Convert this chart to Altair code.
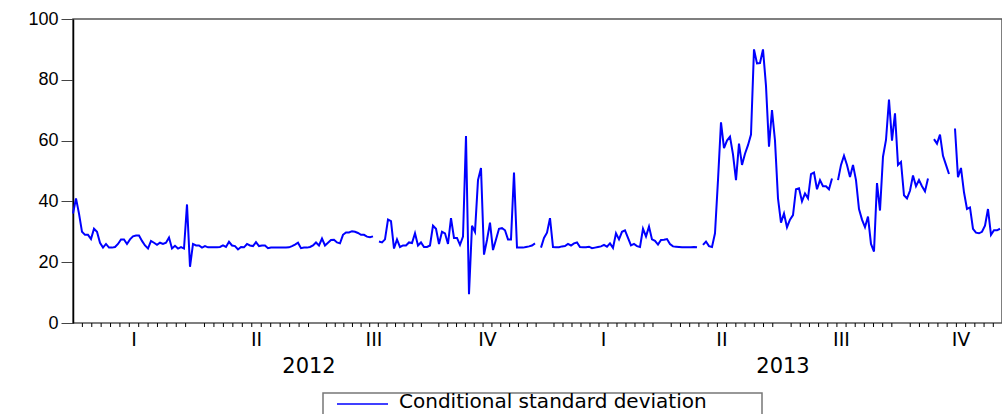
import altair as alt
import pandas as pd

# ---- data: conditional standard deviation, one value per observation ----
q1_2012 = [36, 41, 36, 30, 29, 29, 27.6, 31, 30, 26.4, 24.8, 26, 24.8, 24.8, 25, 26, 27.5, 27.5, 26, 27.5,
           28.5, 28.8, 28.8, 27, 25.5, 24.5, 27, 26.4, 25.7, 26.4, 26, 26.4, 28.1, 24.5, 25.4, 24.5, 25, 24.5, 39, 18.5, 26]
q2_2012 = [25.5, 25.5, 24.8, 25.3, 24.9, 24.9, 24.9, 24.9, 25, 25.5, 25, 26.7, 25.5, 25.3, 24.2, 25, 24.9, 26, 25.5, 25.3,
           26.6, 25.3, 25.5, 25.5, 24.6, 24.8, 24.8, 24.8, 24.8, 24.8, 24.8, 24.9, 25.3, 25.8, 26.4, 24.6, 24.8, 24.8, 25, 25.5, 26.5]
q3_2012 = [25.5, 27.8, 25.5, 26.4, 27.3, 27.4, 26.5, 26.2, 29, 29.8, 29.8, 30.2, 30, 29.6, 29, 29, 28.4, 28.2, 28.5, None,
           26.8, 26.5, 27.5, 34, 33.5, 24.5, 27.5, 25, 25.5, 25.5, 26.5, 26.3, 29.5, 25.5, 26.5, 25, 25]
q4_2012 = [25.5, 32, 31, 26, 30, 29.5, 26, 34.5, 28, 28, 25.7, 28.4, 61.5, 9.5, 32, 30, 47, 51, 22.5, 27.3,
           33, 24, 27.5, 31, 31.2, 30.5, 27.5, 27.5, 49.5, 24.8, 24.8, 24.8, 25, 25.2, 25.5, 26.2, None, 24.8, 28]
q1_2013 = [29.7, 34.5, 25, 24.9, 24.9, 25.2, 25.3, 26, 25.5, 26.2, 26.5, 25, 24.9, 24.9, 25.1, 24.6, 24.8, 25, 25.2, 25.7,
           25.1, 26.2, 24.7, 29.5, 27.5, 30, 30.5, 28, 25.5, 26, 25.3, 25, 31, 28.5, 31.7, 27.5, 27, 25.8, 27.3]
q2_2013 = [27.4, 27.6, 26, 25.2, 25.1, 25, 24.9, 24.9, 24.9, 24.9, 25, 24.9, None, 25.7, 26.8, 25.3, 25, 29.5, 47, 66,
           57.5, 60, 61.3, 55.5, 47, 59, 52, 55.7, 58.5, 62, 90, 85.4, 85.5, 90, 78, 58, 70, 60, 41, 33]
q3_2013 = [36, 31.5, 34, 35.5, 44, 44.3, 40, 42.6, 41, 49, 49.5, 44, 47, 45, 45, 44, 47.5, None, 47, 52,
           55, 52, 48, 52, 47, 37.5, 34, 31.5, 35, 26, 23.5, 46, 37, 54.7, 60.2, 73.5, 60, 69, 52]
q4_2013 = [53, 42, 41, 43.5, 48.5, 45, 47, 45, 43.3, 47.5, None, 60.5, 59, 62, 55, 52, 49, None, 64, 48,
           51, 43, 37.5, 38, 31, 29.7, 29.5, 30, 32, 37.5, 29, 30.5, 30.5, 31]

series_name = "Conditional standard deviation"
quarter_starts = [0, 40.67, 81.67, 119.0, 157.33, 196.33, 236.33, 276.0, 316.0]
quarter_names = ["I", "II", "III", "IV", "I", "II", "III", "IV"]
year_names = ["2012", "2013"]
y_ticks = [0, 20, 40, 60, 80, 100]

values = q1_2012 + q2_2012 + q3_2012 + q4_2012 + q1_2013 + q2_2013 + q3_2013 + q4_2013
df = pd.DataFrame({"obs": list(range(len(values))), "sd": values})

X_MAX = 309.67
W, H = 929, 304
FONT = "Liberation Sans"
WIDE = "DejaVu Sans"

xscale = alt.Scale(domain=[0, X_MAX], nice=False, zero=False)

# minor (weekly) ticks: 13 per quarter
minor = []
for a, b in zip(quarter_starts[:-1], quarter_starts[1:]):
    for k in range(1, 13):
        p = a + (b - a) * k / 13
        if p <= X_MAX:
            minor.append(p)
minor_df = pd.DataFrame({"pos": minor})

q_df = pd.DataFrame({
    "mid": [(a + b) / 2 for a, b in zip(quarter_starts[:-1], quarter_starts[1:])],
    "name": quarter_names,
})
y_df = pd.DataFrame({
    "mid": [(quarter_starts[0] + quarter_starts[4]) / 2, (quarter_starts[4] + quarter_starts[8]) / 2],
    "name": year_names,
})
leg_df = pd.DataFrame({"series": [series_name]})

line = alt.Chart(df).mark_line(color="#0000ff", strokeWidth=2).encode(
    x=alt.X("obs:Q", scale=xscale,
            axis=alt.Axis(values=quarter_starts, tickSize=8, labels=False, grid=False, title=None,
                          domainColor="black", tickColor="black", domainWidth=1.5)),
    y=alt.Y("sd:Q", scale=alt.Scale(domain=[0, 100], nice=False),
            axis=alt.Axis(values=y_ticks, tickSize=12, grid=False, title=None, labelPadding=3,
                          domainColor="black", tickColor="#444", domainWidth=1.5)),
)

minor_ticks = alt.Chart(minor_df).mark_rule(color="black", strokeWidth=1).encode(
    x=alt.X("pos:Q", scale=xscale, axis=None),
    y=alt.value(H),
    y2=alt.value(H + 4),
)

q_labels = alt.Chart(q_df).mark_text(font=WIDE, fontSize=19, color="black", baseline="middle").encode(
    x=alt.X("mid:Q", scale=xscale, axis=None),
    y=alt.value(H + 17),
    text="name:N",
)

yr_labels = alt.Chart(y_df).mark_text(font=WIDE, fontSize=21, color="black", baseline="middle").encode(
    x=alt.X("mid:Q", scale=xscale, axis=None),
    y=alt.value(H + 44),
    text="name:N",
)

leg_box = alt.Chart(leg_df).mark_rect(fill="white", stroke="#777", strokeWidth=1.5).encode(
    x=alt.value(250), x2=alt.value(689), y=alt.value(374), y2=alt.value(410),
)
leg_line = alt.Chart(leg_df).mark_rule(color="#0000ff", strokeWidth=1.5).encode(
    x=alt.value(264), x2=alt.value(315), y=alt.value(385),
)
leg_text = alt.Chart(leg_df).mark_text(font=WIDE, fontSize=20, color="black", align="left",
                                       baseline="middle").encode(
    x=alt.value(326), y=alt.value(383), text="series:N",
)

chart = alt.layer(line, minor_ticks, q_labels, yr_labels, leg_box, leg_line, leg_text).properties(
    width=W, height=H,
    autosize=alt.AutoSizeParams(type="none"),
    padding={"left": 73, "top": 19, "right": 0, "bottom": 91},
).configure_view(stroke="#555", strokeWidth=1.5).configure_axis(
    labelFont=FONT, labelFontSize=18, labelColor="black"
)

chart.save("out.html", embed_options={"renderer": "svg", "actions": False})
